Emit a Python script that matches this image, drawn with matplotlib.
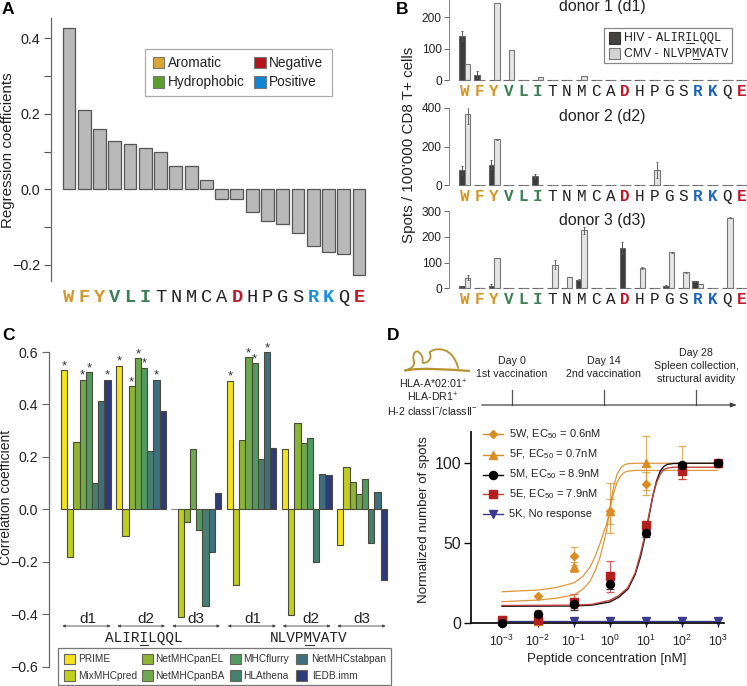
import matplotlib
matplotlib.use("Agg")
import numpy as np
import matplotlib.pyplot as plt
from matplotlib.patches import Rectangle, PathPatch
from matplotlib.path import Path
from matplotlib.lines import Line2D

plt.rcParams['font.family'] = ['Liberation Sans', 'DejaVu Sans']
plt.rcParams['mathtext.default'] = 'regular'
plt.rcParams['axes.unicode_minus'] = True

W, H = 747, 686
TXT = '#222222'
MONO = 'Liberation Mono'

# ---------- data ----------
residues = list("WFYVLITNMCADHPGSRKQE")
reg_coef = [0.4265, 0.21, 0.159, 0.127, 0.119, 0.109, 0.098, 0.061, 0.061, 0.025,
            -0.025, -0.025, -0.061, -0.083, -0.093, -0.117, -0.149, -0.165, -0.172, -0.228]
aromatic = "WFY"; hydrophobic = "VLI"; negative = "DE"; positive = "RK"

d1_hiv = [140, 17, 0, 0, 0, 0, 0, 0, 0, 0, 0, 0, 0, 0, 0, 0, 0, 0, 0, 0]
d1_hiv_hi = [155, 28, 0, 0, 0, 0, 0, 0, 0, 0, 0, 0, 0, 0, 0, 0, 0, 0, 0, 0]
d1_cmv = [52, 0, 245, 95, 0, 10, 0, 0, 13, 0, 0, 0, 0, 0, 0, 0, 0, 0, 0, 0]
d1_cmv_hi = [52, 0, 245, 95, 0, 10, 0, 0, 13, 0, 0, 0, 0, 0, 0, 0, 0, 0, 0, 0]
d2_hiv = [78, 0, 105, 0, 0, 47, 0, 0, 0, 0, 0, 0, 0, 0, 0, 0, 0, 0, 0, 0]
d2_hiv_hi = [102, 0, 128, 0, 0, 57, 0, 0, 0, 0, 0, 0, 0, 0, 0, 0, 0, 0, 0, 0]
d2_cmv = [365, 0, 238, 0, 0, 0, 0, 0, 0, 0, 0, 0, 0, 78, 0, 0, 0, 0, 0, 0]
d2_cmv_hi = [415, 0, 240, 0, 0, 0, 0, 0, 0, 0, 0, 0, 0, 118, 0, 0, 0, 0, 0, 0]
d3_hiv = [8, 0, 10, 0, 0, 0, 0, 0, 33, 0, 0, 158, 0, 0, 10, 0, 27, 0, 0, 0]
d3_hiv_hi = [10, 0, 18, 0, 0, 0, 0, 0, 38, 0, 0, 182, 0, 0, 14, 0, 29, 0, 0, 0]
d3_cmv = [42, 0, 118, 0, 0, 0, 92, 44, 226, 0, 0, 0, 78, 0, 140, 63, 17, 0, 275, 0]
d3_cmv_hi = [50, 0, 119, 0, 0, 0, 110, 45, 240, 0, 0, 0, 82, 0, 143, 65, 18, 0, 277, 0]

methods = ["PRIME", "MixMHCpred", "NetMHCpanEL", "NetMHCpanBA", "MHCflurry",
           "HLAthena", "NetMHCstabpan", "IEDB.imm"]
method_colors = ['#f4e31c', '#bfcf1c', '#8db432', '#6fa94f', '#519a60',
                 '#447f72', '#3f6e7e', '#2f3a78']
groups = ["d1", "d2", "d3", "d1", "d2", "d3"]
corr_g1 = [0.53, -0.183, 0.258, 0.495, 0.522, 0.099, 0.414, 0.495]
corr_g2 = [0.548, -0.10, 0.47, 0.576, 0.54, 0.221, 0.495, 0.376]
corr_g3 = [0.0, -0.412, -0.047, 0.229, -0.078, -0.367, -0.164, 0.061]
corr_g4 = [0.491, -0.29, 0.263, 0.58, 0.557, 0.191, 0.599, 0.234]
corr_g5 = [0.229, -0.402, 0.328, 0.252, 0.273, -0.2, 0.133, 0.13]
corr_g6 = [-0.135, 0.16, 0.103, 0.057, 0.117, -0.13, 0.065, -0.27]
corr_sig = [[0, 3, 4, 7], [0, 2, 3, 4, 6], [], [0, 3, 4, 6], [], []]

conc = [1e-3, 1e-2, 1e-1, 1e0, 1e1, 1e2, 1e3]
w5 = [1, 17, 42, 70, 87, 98, 100]
w5_lo = [1, 17, 36.3, 56.5, 80, 98, 100]
w5_hi = [4.5, 17, 47.7, 87.5, 94.5, 98, 100]
f5 = [1, 1, 35, 70, 100, 98, 100]
f5_lo = [1, 1, 32, 62, 83, 90, 100]
f5_hi = [1, 8, 38.3, 77.5, 117, 111, 100]
m5 = [0, 5.5, 11.5, 24.5, 56, 99, 100]
m5_lo = [0, 5, 8, 21, 54, 98, 100]
m5_hi = [0, 6, 15, 28, 58, 100, 100]
e5 = [2, 1.5, 13, 29, 61, 95, 100]
e5_lo = [1, 1, 9.5, 19, 59, 90, 100]
e5_hi = [3, 2, 18, 39, 63, 100, 100]
k5 = [0.8, 0.8, 0.8, 0.8, 0.8, 0.8, 0.8]

fit_log_a = [-3, -2, -1.5, -1, -.75, -.55, -.4, -.27, -.15, -.09, 0, .1, .2, .3, .4, .5, .7, 1, 2, 3]
fit_w = [19.4, 20.5, 22, 25, 29, 35, 42, 50, 58, 62, 71, 81, 88, 92, 94.3, 95, 95.5, 95.5, 95.5, 95.5]
fit_f = [13.2, 14.2, 15.3, 17.4, 21, 26, 33, 41.4, 52, 58, 71, 85, 93, 97, 99, 99.7, 100, 100, 100, 100]
fit_log_b = [-3, -1, -.5, 0, .25, .5, .7, .85, 1, 1.1, 1.2, 1.3, 1.4, 1.5, 1.6, 1.75, 2, 3]
fit_m = [10.3, 10.5, 11, 13, 16, 21, 30, 41, 56, 68, 80, 89, 95, 98, 99.3, 99.8, 100, 100]
fit_e = [10.8, 11, 11.5, 14, 17, 22, 31, 43, 57.5, 69, 80, 88, 93, 96, 97, 97.5, 97.5, 97.5]
# ---------------------------

fig = plt.figure(figsize=(W / 100, H / 100), dpi=100, facecolor='white')


def axpx(l, t, r, b):
    return fig.add_axes([l / W, 1 - b / H, (r - l) / W, (b - t) / H], facecolor='none')


ov = fig.add_axes([0, 0, 1, 1], zorder=10)
ov.set_xlim(0, W); ov.set_ylim(H, 0); ov.axis('off'); ov.patch.set_visible(False)


def t(x, y, s, size=9, ha='left', va='center', **kw):
    kw.setdefault('color', TXT)
    return ov.text(x, y, s, fontsize=size, ha=ha, va=va, **kw)


def letter_color(c, pos='#1a8fe0'):
    if c in aromatic: return '#d3962a'
    if c in hydrophobic: return '#3c7f56'
    if c in negative: return '#c0182a'
    if c in positive: return pos
    return '#222222'


def letter_ticks(ax, size, pad, pos):
    ax.set_xticks(range(len(residues)))
    ax.set_xticklabels(residues)
    ax.tick_params(axis='x', length=0, pad=pad)
    for lab, c in zip(ax.get_xticklabels(), residues):
        lab.set_fontfamily(MONO)
        lab.set_fontsize(size)
        lab.set_color(letter_color(c, pos))
        lab.set_fontweight('bold' if letter_color(c) != '#222222' else 'normal')


def style_left(ax, color='#666666', lw=0.9):
    for s in ['top', 'right', 'bottom']:
        ax.spines[s].set_visible(False)
    ax.spines['left'].set_color(color)
    ax.spines['left'].set_linewidth(lw)


def swatch(x0, y0, x1, y1, fc, ec='#777777'):
    ov.add_patch(Rectangle((x0, y0), x1 - x0, y1 - y0, fc=fc, ec=ec, lw=0.8))


# ---------- Panel A ----------
a = axpx(51, 18, 370, 281)
a.bar(range(20), reg_coef, width=0.84, color='#bab9b9', edgecolor='#555555', linewidth=0.9)
a.set_xlim(-1.18, 19.72); a.set_ylim(-0.243, 0.4538)
style_left(a)
a.set_yticks([-0.2, -0.1, 0, 0.1, 0.2, 0.3, 0.4])
a.set_yticklabels(['\u22120.2', '', '0.0', '', '0.2', '', '0.4'], fontsize=10.4, color=TXT)
a.tick_params(axis='y', length=5, width=0.8, color='#555555', pad=3)
letter_ticks(a, 13.5, 5.5, '#1a8fe0')
t(8, 150, 'Regression coefficients', 10.9, ha='center', rotation=90)
ov.add_patch(Rectangle((145.3, 49.3), 187, 46.7, fc='white', ec='#aaaaaa', lw=0.9))
for (x0, y0, col, lab, tx) in [(152.7, 56.7, '#dba534', 'Aromatic', 168.3),
                               (152.7, 76, '#5a9e2f', 'Hydrophobic', 168.3),
                               (254, 56.7, '#b3141b', 'Negative', 269),
                               (254, 76, '#0c87d6', 'Positive', 269)]:
    swatch(x0, y0, x0 + 11.5, y0 + 11.5, col)
    t(tx, y0 + 6, lab, 9.8)
t(2, 10, 'A', 12.5, weight='bold', color='black')

# ---------- Panel B ----------
dark = '#3d3c3b'; light = '#e4e4e4'
B_boxes = [(0, 80.3, 255, [0, 100, 200], d1_hiv, d1_hiv_hi, d1_cmv, d1_cmv_hi),
           (107.7, 185.3, 400, [0, 200, 400], d2_hiv, d2_hiv_hi, d2_cmv, d2_cmv_hi),
           (211.3, 288.3, 300, [0, 100, 200, 300], d3_hiv, d3_hiv_hi, d3_cmv, d3_cmv_hi)]
bw = 0.378
for top, bot, ymax, yt, hiv, hiv_hi, cmv, cmv_hi in B_boxes:
    b = axpx(449.3, top, 747, bot)
    x = np.arange(20)
    h1, h1h, h2, h2h = map(np.array, (hiv, hiv_hi, cmv, cmv_hi))
    b.bar(x - bw / 2, h1, width=bw, color=dark, edgecolor='#666666', linewidth=0.8, clip_on=False)
    b.bar(x + bw / 2, h2, width=bw, color=light, edgecolor='#777777', linewidth=0.8, clip_on=False)
    m1 = h1h > h1; m2 = h2h > h2
    b.errorbar(x[m1] - bw / 2, h1[m1], yerr=(h1h - h1)[m1], fmt='none', ecolor='#555555',
               elinewidth=0.7, capsize=1, capthick=0.7)
    b.errorbar(x[m2] + bw / 2, h2[m2], yerr=(h2h - h2)[m2], fmt='none', ecolor='#666666',
               elinewidth=0.7, capsize=1, capthick=0.7)
    b.set_xlim(-1.078, 19.37); b.set_ylim(0, ymax)
    style_left(b, '#888888', 0.7)
    b.set_yticks(yt)
    b.tick_params(axis='y', labelsize=8.6, labelcolor=TXT, length=3.5, width=0.7, color='#666666', pad=2)
    letter_ticks(b, 11.5, 3, '#1f66b8')
for y, s in [(7, 'donor 1 (d1)'), (117, 'donor 2 (d2)'), (220.7, 'donor 3 (d3)')]:
    t(602.7, y, s, 11.4, ha='center')
t(409, 145, "Spots / 100'000 CD8 T+ cells", 10.9, ha='center', rotation=90)
t(396, 9, 'B', 12.5, weight='bold', color='black')
ov.add_patch(Rectangle((604.3, 28), 128, 35.3, fc='white', ec='#888888', lw=0.9))
swatch(609.3, 32.3, 620, 43.7, '#444342', '#333333')
swatch(609.3, 48, 620, 59.3, '#d4d4d4', '#777777')
t(624.3, 38, 'HIV - ', 8.8); t(656, 38.5, 'ALIRILQQL', 8.7, family=MONO)
t(624.3, 53.7, 'CMV - ', 8.8); t(662.7, 54.2, 'NLVPMVATV', 8.7, family=MONO)
ov.add_line(Line2D([686, 694], [43, 43], color='#333333', lw=0.7))
ov.add_line(Line2D([692.5, 700], [58.5, 58.5], color='#333333', lw=0.7))

# ---------- Panel C ----------
c = axpx(48.7, 352, 391, 666.7)
bwc = 6.2 / 55.25
series = [corr_g1, corr_g2, corr_g3, corr_g4, corr_g5, corr_g6]
for g, vals in enumerate(series):
    for i, v in enumerate(vals):
        xx = g + i * bwc
        c.bar(xx, v, width=bwc, color=method_colors[i], edgecolor='#4a4a3a' if v else '#888888',
              linewidth=0.8, clip_on=False)
        if i in corr_sig[g]:
            c.annotate('*', (xx, v), xytext=(0, -1.5), textcoords='offset points',
                       ha='center', va='bottom', fontsize=9.5, color='#333333')
c.set_xlim(-0.2787, 5.917); c.set_ylim(-0.6, 0.6)
style_left(c, '#666666', 0.9)
c.set_xticks([])
c.set_yticks([-0.6, -0.4, -0.2, 0, 0.2, 0.4, 0.6])
c.set_yticklabels(['\u22120.6', '\u22120.4', '\u22120.2', '0.0', '0.2', '0.4', '0.6'], fontsize=10.2, color=TXT)
c.tick_params(axis='y', length=5, width=0.8, color='#666666', pad=3)
t(6, 497, 'Correlation coefficient', 10, ha='center', rotation=90)
t(2, 335.5, 'C', 12.5, weight='bold', color='black')

spans = [(62.3, 110.7), (117.3, 165), (172.3, 220), (227.7, 276), (282.7, 330.7), (337.3, 385.7)]
lab_x = [88, 145.7, 196, 253.3, 311, 361.7]
for (x0, x1), lx, g in zip(spans, lab_x, groups):
    ov.annotate('', xy=(x0, 626), xytext=(x1, 626),
                arrowprops=dict(arrowstyle='<|-|>,head_width=0.08,head_length=0.16', color='#444444',
                                lw=0.6, shrinkA=0, shrinkB=0))
    t(lx, 619, g, 11, ha='center')
t(143.5, 638, 'ALIRILQQL', 10.4, ha='center', family=MONO)
t(309, 638, 'NLVPMVATV', 10.4, ha='center', family=MONO)
ov.add_line(Line2D([139.5, 148], [644.5, 644.5], color='#333333', lw=0.8))
ov.add_line(Line2D([305, 313.5], [644.5, 644.5], color='#333333', lw=0.8))

ov.add_patch(Rectangle((58, 648), 332.7, 37, fc='white', ec='#777777', lw=0.9))
leg_x = [(64.3, 78.3), (64.3, 78.3), (141.7, 155.3), (141.7, 155.3),
         (230, 242.7), (230, 242.7), (296, 310.7), (296, 312.3)]
for i, (m, col) in enumerate(zip(methods, method_colors)):
    y0 = 653.7 if i % 2 == 0 else 670
    sx, tx = leg_x[i]
    swatch(sx, y0, sx + 11, y0 + 10.7, col, '#666655')
    t(tx, y0 + 5.6, m, 7.3, color='#333333')

# ---------- Panel D schedule ----------
t(387, 335.5, 'D', 12.5, weight='bold', color='black')
ov.annotate('', xy=(737, 405), xytext=(481.7, 405),
            arrowprops=dict(arrowstyle='-|>,head_width=0.13,head_length=0.35', color='#444444',
                            lw=0.9, shrinkA=0, shrinkB=0))
for xt in [512.3, 604, 696.3]:
    ov.add_line(Line2D([xt, xt], [390, 405], color='#555555', lw=0.9))
t(511.7, 360.7, 'Day 0', 7.7, ha='center'); t(511.7, 373.7, '1st vaccination', 7.7, ha='center')
t(604, 360.7, 'Day 14', 7.7, ha='center'); t(604, 373.7, '2nd vaccination', 7.7, ha='center')
t(696, 353, 'Day 28', 7.7, ha='center'); t(696, 366.3, 'Spleen collection,', 7.7, ha='center')
t(696, 379.3, 'structural avidity', 7.7, ha='center')
t(432.7, 384.3, 'HLA-A*02:01$^{+}$', 7.7, ha='center')
t(432.7, 397.3, 'HLA-DR1$^{+}$', 7.7, ha='center')
t(432.7, 411, 'H-2 classI$^{-}$/classII$^{-}$', 7.7, ha='center')

# mouse outline, in reference pixels
def mp(x, y):
    return (395 + x / 3, 335 + y / 3)

mouse_v = [mp(28, 107), mp(50, 102), mp(60, 92), mp(57, 78),
           mp(50, 60), mp(62, 42), mp(72, 52),
           mp(82, 60), mp(85, 72), mp(82, 84)]
mouse_c = [Path.MOVETO, Path.CURVE4, Path.CURVE4, Path.CURVE4,
           Path.CURVE4, Path.CURVE4, Path.CURVE4,
           Path.CURVE4, Path.CURVE4, Path.CURVE4]
gold = '#b7912c'
ov.add_patch(PathPatch(Path(mouse_v, mouse_c), fc='none', ec=gold, lw=1.3))
ear_v = [mp(82, 84), mp(100, 85), mp(112, 70), mp(104, 52), mp(118, 38), mp(160, 35), mp(180, 75), mp(187, 88), mp(188, 94), mp(190, 101)]
ear_c = [Path.MOVETO] + [Path.CURVE4] * 9
ov.add_patch(PathPatch(Path(ear_v, ear_c), fc='none', ec=gold, lw=1.3))
base_v = [mp(28, 107), mp(80, 96), mp(160, 104), mp(225, 108)]
base_c = [Path.MOVETO, Path.CURVE4, Path.CURVE4, Path.CURVE4]
ov.add_patch(PathPatch(Path(base_v, base_c), fc='none', ec=gold, lw=1.6))

# ---------- Panel D curves ----------
d = axpx(471, 432, 724, 622.7)
d.set_xscale('log')
d.set_xlim(10 ** -3.862, 10 ** 3.175); d.set_ylim(0, 119.6)
ORANGE = '#d98c24'; RED = '#b5201f'; NAVY = '#3a3a90'
ms_kw = dict(clip_on=False, linestyle='none')


def err(y, lo, hi, col, alpha=0.7):
    y, lo, hi = map(np.array, (y, lo, hi))
    eb = d.errorbar(conc, y, yerr=[y - lo, hi - y], fmt='none', ecolor=col, elinewidth=0.9,
                    capsize=3.2, capthick=0.9, alpha=alpha)
    for art in eb.lines[1] + eb.lines[2]:
        art.set_clip_on(False)


d.plot(conc, k5, color=NAVY, lw=1.0, clip_on=False, zorder=2)
d.plot(conc, k5, marker='v', ms=5.5, color=NAVY, zorder=2.1, **ms_kw)
d.plot(10 ** np.array(fit_log_a), fit_w, color=ORANGE, lw=0.9, alpha=.9, zorder=3)
d.plot(10 ** np.array(fit_log_a), fit_f, color=ORANGE, lw=0.9, alpha=.9, zorder=3)
err(w5, w5_lo, w5_hi, ORANGE); err(f5, f5_lo, f5_hi, ORANGE)
d.plot(conc, w5, marker='D', ms=4.2, color=ORANGE, zorder=3.2, **ms_kw)
d.plot(conc, f5, marker='^', ms=5.8, color=ORANGE, zorder=3.2, **ms_kw)
d.plot(10 ** np.array(fit_log_b), fit_m, color='#111111', lw=1.0, zorder=4)
d.plot(10 ** np.array(fit_log_b), fit_e, color='#c0443c', lw=1.0, zorder=4.1)
err(e5, e5_lo, e5_hi, RED)
d.plot(conc, e5, marker='s', ms=5.6, color=RED, zorder=4.3, **ms_kw)
err(m5, m5_lo, m5_hi, '#222222', 0.9)
d.plot(conc, m5, marker='o', ms=5.8, color='black', zorder=4.5, **ms_kw)

for s in ['top', 'right']:
    d.spines[s].set_visible(False)
for s in ['left', 'bottom']:
    d.spines[s].set_linewidth(1.3); d.spines[s].set_color('#111111')
d.set_yticks([0, 50, 100])
d.tick_params(axis='y', labelsize=11.4, labelcolor=TXT, length=5, width=1.0, pad=2)
d.set_xticks(conc)
d.set_xticklabels(['$10^{-3}$', '$10^{-2}$', '$10^{-1}$', '$10^{0}$', '$10^{1}$', '$10^{2}$', '$10^{3}$'],
                  fontsize=8.8)
d.tick_params(axis='x', which='major', length=3, width=0.8, pad=5, labelcolor=TXT)
d.tick_params(axis='x', which='minor', length=0)
d.minorticks_off()
t(424, 520, 'Normalized number of spots', 9.6, ha='center', rotation=90)
t(607, 659, 'Peptide concentration [nM]', 9.6, ha='center')

legD = [(434, ORANGE, 'D', 4.2, '5W, EC$_{50}$ = 0.6nM', ORANGE),
        (454.5, ORANGE, '^', 5.8, '5F, EC$_{50}$ = 0.7nM', ORANGE),
        (474.5, 'black', 'o', 5.8, '5M, EC$_{50}$ = 8.9nM', 'black'),
        (494, RED, 's', 5.6, '5E, EC$_{50}$ = 7.9nM', '#c0443c'),
        (514, NAVY, 'v', 5.5, '5K, No response', NAVY)]
for y, col, mk, ms, lab, lc in legD:
    ov.add_line(Line2D([483, 503], [y, y], color=lc, lw=1.0))
    ov.add_line(Line2D([493], [y], marker=mk, ms=ms, color=col, ls='none'))
    t(508.7, y, lab, 8.0)

fig.savefig('out.png', dpi=100)
